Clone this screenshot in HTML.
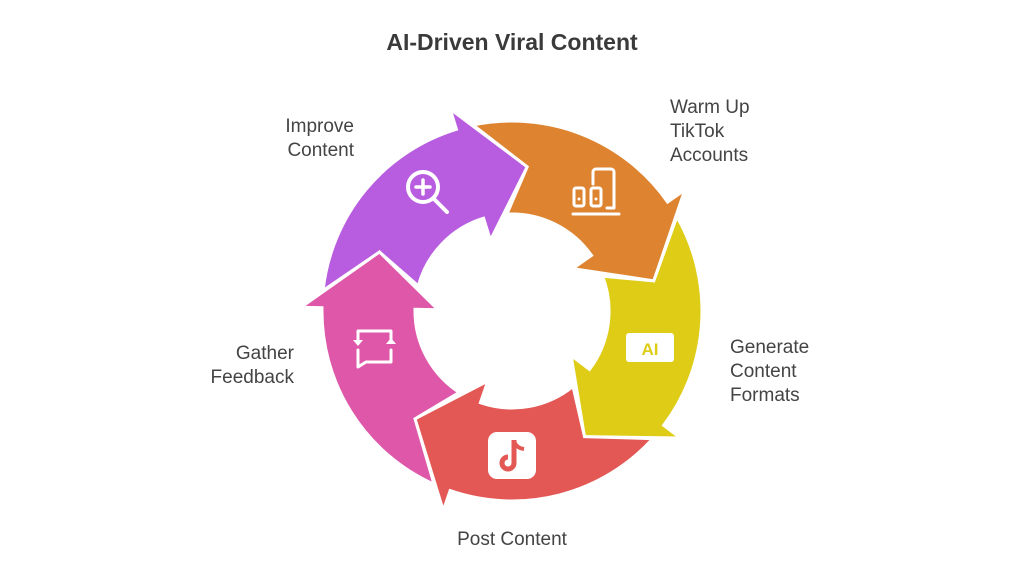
<!DOCTYPE html>
<html><head><meta charset="utf-8">
<style>
body{margin:0;width:1024px;height:576px;background:#fff;overflow:hidden;font-family:"Liberation Sans",sans-serif;}
.t{position:absolute;color:#444;font-size:19px;line-height:24px;}
</style></head><body>
<div class="t" style="left:0;width:1024px;top:30px;text-align:center;font-weight:bold;font-size:23px;color:#3a3a3a;">AI-Driven Viral Content</div>
<div class="t" style="left:200px;width:154px;top:115px;text-align:right;">Improve<br>Content</div>
<div class="t" style="left:670px;top:96px;">Warm Up<br>TikTok<br>Accounts</div>
<div class="t" style="left:730px;top:336px;">Generate<br>Content<br>Formats</div>
<div class="t" style="left:0;width:1024px;top:528px;text-align:center;">Post Content</div>
<div class="t" style="left:150px;width:144px;top:342px;text-align:right;">Gather<br>Feedback</div>
<svg id="s" width="1024" height="576" style="position:absolute;left:0;top:0"></svg>
<script>
var cx=512,cy=311;
function p(a,r){var t=a*Math.PI/180;return (cx+r*Math.sin(t)).toFixed(1)+","+(cy-r*Math.cos(t)).toFixed(1);}
var cols=["#B85CE0","#DE8431","#DECC16","#E35754","#DE57A8"];
var h="";
for(var i=0;i<5;i++){var B=-17+72*i,P=B-72;
var d="M"+p(P+5.2,190)+" A190,190 0 0 1 "+p(B,190)+" L"+p(B,211)+" L"+p(B+23,145)+" L"+p(B,74)+" L"+p(B,97)+" A97,97 0 0 0 "+p(P+14,97)+" L"+p(P+23,145)+" Z";
h+='<path d="'+d+'" fill="'+cols[i]+'" stroke="#fff" stroke-width="3" stroke-linejoin="miter"/>';}
h+='<g fill="none" stroke="#fff" stroke-width="4" stroke-linecap="round"><circle cx="423" cy="187" r="15"/><line x1="434" y1="199" x2="447" y2="212"/><line x1="423" y1="180" x2="423" y2="194" stroke-width="3.5"/><line x1="416" y1="187" x2="430" y2="187" stroke-width="3.5"/></g>';
h+='<g fill="none" stroke="#fff" stroke-width="3" stroke-linecap="round" stroke-linejoin="round"><rect x="574" y="188" width="10" height="18" rx="2"/><rect x="591" y="188" width="10" height="18" rx="2"/><path d="M593 184 V172 a3 3 0 0 1 3-3 h15 a3 3 0 0 1 3 3 V208 h-7"/><line x1="573" y1="214" x2="619" y2="214"/></g><circle cx="579" cy="199" r="1.5" fill="#fff"/><circle cx="596" cy="199" r="1.5" fill="#fff"/>';
h+='<rect x="626" y="333" width="48" height="29" rx="3" fill="#fff"/><text x="650" y="355" text-anchor="middle" font-family="Liberation Sans,sans-serif" font-weight="bold" font-size="17" fill="#DECC16">AI</text>';
h+='<rect x="488" y="432" width="48" height="47" rx="9" fill="#fff"/><path d="M514 440 V463 a6 6 0 1 1 -6 -6" fill="none" stroke="#E35754" stroke-width="5"/><path d="M514 441 q2 7 10 8" fill="none" stroke="#E35754" stroke-width="4"/>';
h+='<g fill="none" stroke="#fff" stroke-width="3" stroke-linecap="round" stroke-linejoin="round"><path d="M358 340 V331 h33 V340"/><path d="M358 350 V367 l8-5 h25 V350"/></g><path d="M353 340 h10 l-5 6z M386 344 h10 l-5 -6z" fill="#fff"/>';
document.getElementById("s").innerHTML=h;
</script>
</body></html>
